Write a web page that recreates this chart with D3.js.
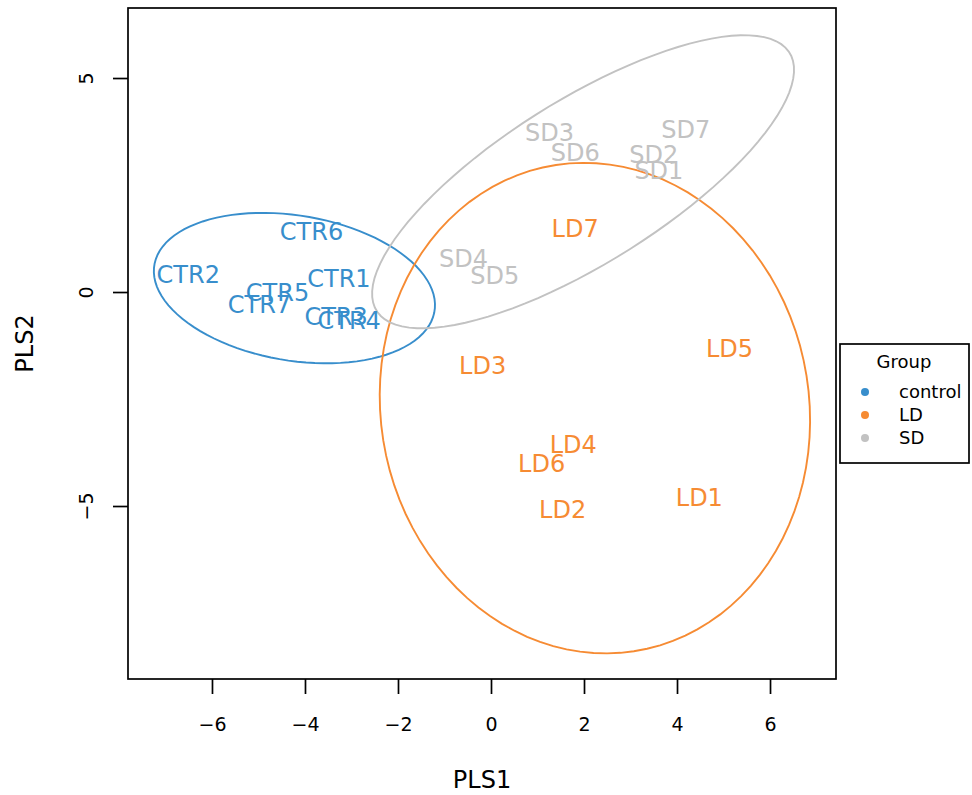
<!DOCTYPE html>
<html>
<head>
<meta charset="utf-8">
<script src="https://cdn.jsdelivr.net/npm/d3@7"></script>
<style>
  body { margin: 0; background: #fff; }
  svg text { font-family: "DejaVu Sans", sans-serif; }
</style>
</head>
<body>
<script>
// sample scores on the first two PLS components
const sampleNames = ["CTR1", "CTR2", "CTR3", "CTR4", "CTR5", "CTR6", "CTR7",
                     "LD1", "LD2", "LD3", "LD4", "LD5", "LD6", "LD7",
                     "SD1", "SD2", "SD3", "SD4", "SD5", "SD6", "SD7"];
const pls1 = [-3.27, -6.51, -3.33, -3.05, -4.59, -3.86, -4.98,
              4.48, 1.54, -0.18, 1.77, 5.13, 1.09, 1.81,
              3.61, 3.50, 1.26, -0.59, 0.08, 1.81, 4.19];
const pls2 = [0.33, 0.42, -0.58, -0.66, -0.01, 1.42, -0.28,
              -4.80, -5.07, -1.72, -3.57, -1.32, -4.00, 1.49,
              2.84, 3.22, 3.73, 0.79, 0.39, 3.27, 3.79];
const groupOf = ["control", "control", "control", "control", "control", "control", "control",
                 "LD", "LD", "LD", "LD", "LD", "LD", "LD",
                 "SD", "SD", "SD", "SD", "SD", "SD", "SD"];
const groups = ["control", "LD", "SD"];
const groupColors = ["#388ECC", "#F68B33", "#C2C2C2"];
const xTicks = [-6, -4, -2, 0, 2, 4, 6];
const yTicks = [-5, 0, 5];

const W = 972, H = 795;
const plot = {left: 128, right: 836, top: 8, bottom: 679};

const svg = d3.select("body").append("svg").attr("width", W).attr("height", H);

const x = d3.scaleLinear().domain([-7.806, 7.419]).range([plot.left, plot.right]);
const y = d3.scaleLinear().domain([-9.042, 6.636]).range([plot.bottom, plot.top]);
const color = d3.scaleOrdinal().domain(groups).range(groupColors);

const points = sampleNames.map((name, i) => ({name, x: pls1[i], y: pls2[i], group: groupOf[i]}));

// 95% confidence ellipse per group (same construction as ellipse::ellipse)
const tLevel = Math.sqrt(5.991465);
function ellipsePoints(pts) {
  const n = pts.length;
  const mx = d3.mean(pts, d => d.x), my = d3.mean(pts, d => d.y);
  let sxx = 0, syy = 0, sxy = 0;
  pts.forEach(d => {
    sxx += (d.x - mx) ** 2;
    syy += (d.y - my) ** 2;
    sxy += (d.x - mx) * (d.y - my);
  });
  sxx /= n - 1; syy /= n - 1; sxy /= n - 1;
  const sx = Math.sqrt(sxx), sy = Math.sqrt(syy);
  const r = sxy / (sx * sy);
  const dAng = Math.acos(r);
  const out = [];
  for (let k = 0; k <= 100; k++) {
    const a = -Math.PI + 2 * Math.PI * k / 100;
    out.push([mx + tLevel * sx * Math.cos(a + dAng / 2),
              my + tLevel * sy * Math.cos(a - dAng / 2)]);
  }
  return out;
}

const line = d3.line().x(d => x(d[0])).y(d => y(d[1]));

svg.append("g").selectAll("path")
  .data(groups)
  .join("path")
  .attr("d", g => line(ellipsePoints(points.filter(p => p.group === g))))
  .attr("fill", "none")
  .attr("stroke", g => color(g))
  .attr("stroke-width", 1.9);

svg.append("g").selectAll("text")
  .data(points)
  .join("text")
  .attr("x", d => x(d.x))
  .attr("y", d => y(d.y))
  .attr("dy", "0.36em")
  .attr("text-anchor", "middle")
  .attr("font-size", 24)
  .attr("fill", d => color(d.group))
  .text(d => d.name);

// frame
svg.append("rect")
  .attr("x", plot.left).attr("y", plot.top)
  .attr("width", plot.right - plot.left).attr("height", plot.bottom - plot.top)
  .attr("fill", "none").attr("stroke", "#000").attr("stroke-width", 1.7);

const xAxis = svg.append("g")
  .attr("transform", `translate(0,${plot.bottom})`)
  .call(d3.axisBottom(x).tickValues(xTicks).tickSize(15).tickPadding(24));
xAxis.select(".domain").remove();
xAxis.selectAll("line").attr("stroke-width", 1.7);
xAxis.selectAll("text").attr("font-size", 19).attr("font-family", "DejaVu Sans").attr("fill", "#000");

const yAxis = svg.append("g")
  .attr("transform", `translate(${plot.left},0)`)
  .call(d3.axisLeft(y).tickValues(yTicks).tickSize(15));
yAxis.select(".domain").remove();
yAxis.selectAll("line").attr("stroke-width", 1.7);
yAxis.selectAll("text")
  .attr("x", 0).attr("y", 0).attr("dy", 0)
  .attr("text-anchor", "middle")
  .attr("transform", "translate(-35,0) rotate(-90)")
  .attr("font-size", 19).attr("font-family", "DejaVu Sans").attr("fill", "#000");

svg.append("text")
  .attr("x", (plot.left + plot.right) / 2).attr("y", 788)
  .attr("text-anchor", "middle").attr("font-size", 24)
  .text("PLS1");

svg.append("text")
  .attr("transform", `translate(33,${(plot.top + plot.bottom) / 2}) rotate(-90)`)
  .attr("text-anchor", "middle").attr("font-size", 24)
  .text("PLS2");

// legend
const legend = svg.append("g");
legend.append("rect")
  .attr("x", 840).attr("y", 344).attr("width", 129).attr("height", 119)
  .attr("fill", "#fff").attr("stroke", "#000").attr("stroke-width", 1.7);
legend.append("text")
  .attr("x", 904).attr("y", 368).attr("text-anchor", "middle")
  .attr("font-size", 18).text("Group");
const items = legend.selectAll("g.item")
  .data(groups)
  .join("g")
  .attr("class", "item")
  .attr("transform", (d, i) => `translate(0,${392 + i * 23})`);
items.append("circle")
  .attr("cx", 865).attr("cy", 0).attr("r", 4)
  .attr("fill", d => color(d));
items.append("text")
  .attr("x", 899).attr("y", 0).attr("dy", "0.36em")
  .attr("font-size", 18).text(d => d);
</script>
</body>
</html>
